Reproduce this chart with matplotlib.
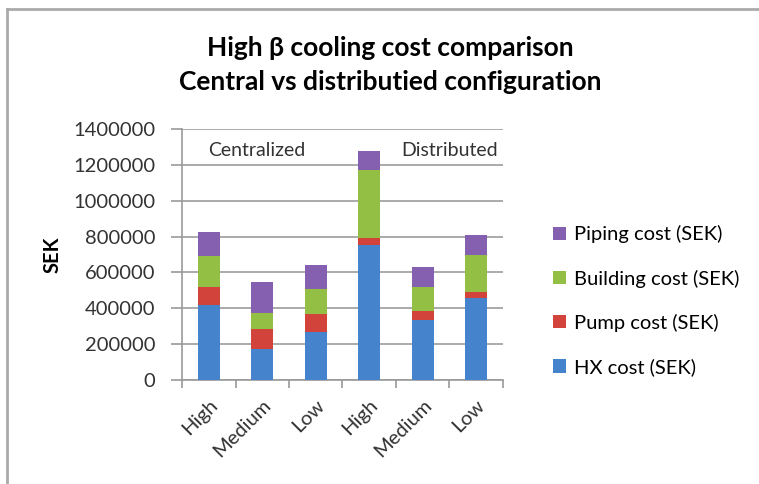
import numpy as np
import matplotlib
matplotlib.use("Agg")
import matplotlib.pyplot as plt

plt.rcParams['font.family'] = ['Lato', 'DejaVu Sans']

categories = ["High", "Medium", "Low", "High", "Medium", "Low"]
hx_cost = [419000, 175000, 268000, 752000, 335000, 456000]
pump_cost = [97000, 108000, 99000, 38000, 52000, 37000]
building_cost = [177000, 89000, 139000, 383000, 134000, 205000]
piping_cost = [130000, 174000, 136000, 106000, 107000, 112000]

series = [("HX cost (SEK)", hx_cost, "#4583cc"),
          ("Pump cost (SEK)", pump_cost, "#d2433b"),
          ("Building cost (SEK)", building_cost, "#93bf45"),
          ("Piping cost (SEK)", piping_cost, "#8660b0")]

fig = plt.figure(figsize=(7.59, 4.84), dpi=100)
ax = fig.add_axes([0.2398, 0.2149, 0.4229, 0.5186])

x = np.arange(len(categories))
bottom = np.zeros(len(categories))
handles = []
for name, vals, col in series:
    b = ax.bar(x, vals, 0.41, bottom=bottom, color=col, label=name, zorder=3)
    handles.append(b)
    bottom += np.array(vals)

ax.set_xlim(-0.5, len(categories) - 0.5)
ax.set_ylim(0, 1400000)
ax.set_yticks(np.arange(0, 1400001, 200000))
ax.set_yticklabels([str(v) for v in range(0, 1400001, 200000)], fontsize=14.5, color="#333333")
ax.yaxis.grid(True, color="#aaaaaa", linewidth=1.4, zorder=0)
ax.set_axisbelow(True)

ax.set_xticks(x)
ax.set_xticklabels(categories, rotation=45, ha="right", rotation_mode="anchor",
                   fontsize=14.5, color="#333333")
ax.tick_params(axis="x", length=0, pad=12)
ax.set_xticks(np.arange(-0.5, len(categories), 1.0), minor=True)
ax.tick_params(axis="x", which="minor", length=6, color="#999999", width=1.2)
ax.tick_params(axis="y", length=8, color="#999999", width=1.2, pad=11)

for s in ["top", "right"]:
    ax.spines[s].set_visible(False)
for s in ["left", "bottom"]:
    ax.spines[s].set_color("#999999")
    ax.spines[s].set_linewidth(1.2)

ax.set_ylabel("SEK", fontsize=14.5, fontweight="bold", labelpad=8)

ax.text(0.08, 0.915, "Centralized", transform=ax.transAxes, fontsize=14,
        color="#333333", va="center", ha="left")
ax.text(0.985, 0.915, "Distributed", transform=ax.transAxes, fontsize=14,
        color="#333333", va="center", ha="right")

fig.text(0.514, 0.90, "High \u03b2 cooling cost comparison", fontsize=19,
         fontweight="bold", ha="center", va="center")
fig.text(0.514, 0.83, "Central vs distributied configuration", fontsize=19,
         fontweight="bold", ha="center", va="center")

fig.legend(handles[::-1], [s[0] for s in series][::-1], loc="center left",
           bbox_to_anchor=(0.705, 0.379), frameon=False, fontsize=14.5,
           handlelength=0.65, handleheight=0.65, handletextpad=0.4,
           labelspacing=1.3)

# chart border (left and top edges visible)
fig.add_artist(plt.Line2D([0.0095, 0.0095], [0, 0.982], color="#aaaaaa", linewidth=2,
                          transform=fig.transFigure))
fig.add_artist(plt.Line2D([0.0095, 1.0], [0.982, 0.982], color="#aaaaaa", linewidth=2,
                          transform=fig.transFigure))

fig.savefig("out.png", dpi=100)
